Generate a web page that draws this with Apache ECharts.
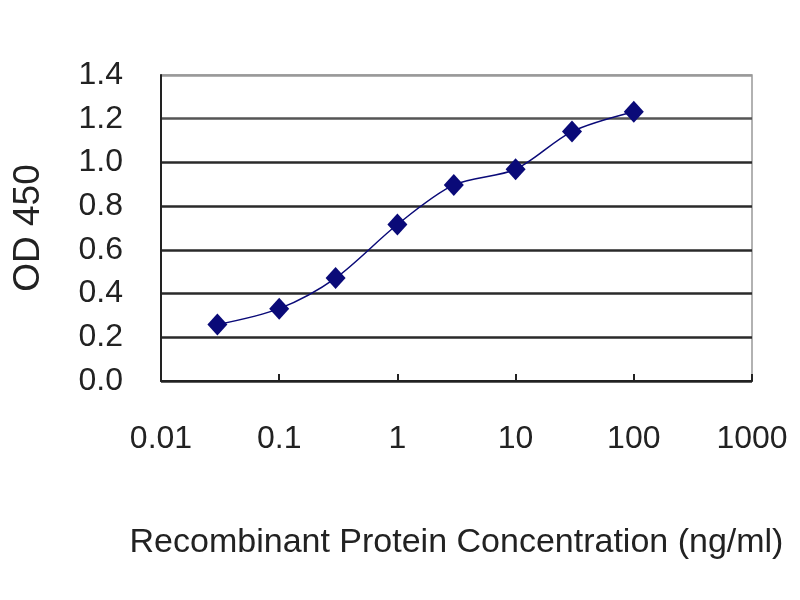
<!DOCTYPE html>
<html>
<head>
<meta charset="utf-8">
<script src="https://cdn.jsdelivr.net/npm/echarts@6/dist/echarts.min.js"></script>
<style>
  html, body { margin: 0; padding: 0; background: #fff; }
  #chart { width: 800px; height: 600px; }
</style>
</head>
<body>
<div id="chart"></div>
<script>
// concentration (ng/ml) and measured OD 450
const concentrations = [0.03, 0.1, 0.3, 1, 3, 10, 30, 100];
const od450 = [0.258, 0.331, 0.471, 0.716, 0.897, 0.969, 1.141, 1.232];
const xTickLabels = ['0.01', '0.1', '1', '10', '100', '1000'];
const yTickLabels = ['0.0', '0.2', '0.4', '0.6', '0.8', '1.0', '1.2', '1.4'];

const font = "'Liberation Sans', Arial, sans-serif";
const navy = '#0a0a78';

const chart = echarts.init(document.getElementById('chart'));
chart.setOption({
  backgroundColor: '#fff',
  animation: false,
  grid: {
    left: 161, right: 48, top: 75, bottom: 219,
    show: true, borderColor: '#999', borderWidth: 1.5
  },
  xAxis: {
    type: 'log',
    logBase: 10,
    min: 0.01,
    max: 1000,
    name: 'Recombinant Protein Concentration (ng/ml)',
    nameLocation: 'middle',
    nameGap: 145,
    nameTextStyle: { fontFamily: font, fontSize: 34, color: '#222' },
    axisLine: { lineStyle: { color: '#222', width: 2 } },
    axisTick: { inside: true, length: 7, lineStyle: { color: '#222', width: 2 } },
    axisLabel: {
      margin: 42,
      fontFamily: font, fontSize: 32, color: '#222',
      formatter: v => {
        const i = Math.round(Math.log10(v)) + 2;
        return xTickLabels[i] !== undefined ? xTickLabels[i] : '';
      }
    },
    splitLine: { show: false },
    minorTick: { show: false }
  },
  yAxis: {
    type: 'value',
    min: 0,
    max: 1.4,
    interval: 0.2,
    name: 'OD 450',
    nameLocation: 'middle',
    nameGap: 114,
    nameTextStyle: { fontFamily: font, fontSize: 37, color: '#222' },
    axisLine: { show: true, lineStyle: { color: '#222', width: 2 } },
    axisTick: { show: false },
    axisLabel: {
      margin: 38,
      fontFamily: font, fontSize: 32, color: '#222',
      formatter: v => yTickLabels[Math.round(v / 0.2)]
    },
    splitLine: {
      show: true,
      lineStyle: {
        color: ['#2a2a2a', '#2a2a2a', '#2a2a2a', '#2a2a2a', '#2a2a2a', '#2a2a2a', '#555', '#999'],
        width: 2.5
      }
    }
  },
  series: [{
    type: 'line',
    data: concentrations.map((c, i) => [c, od450[i]]),
    smooth: 0.3,
    symbol: 'path://M0,-1L1,0L0,1L-1,0Z',
    symbolSize: [20, 22],
    showAllSymbol: true,
    lineStyle: { color: navy, width: 1.5 },
    itemStyle: { color: navy }
  }]
});
</script>
</body>
</html>
